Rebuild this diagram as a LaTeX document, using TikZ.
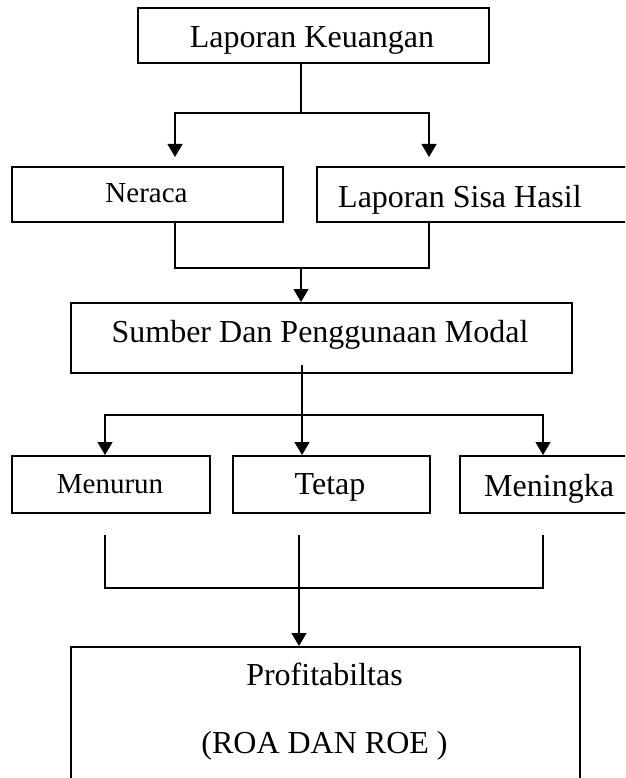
\documentclass[tikz,border=0pt]{standalone}
\usepackage{fontspec}
\setmainfont{Liberation Serif}
\usetikzlibrary{arrows.meta}
\begin{document}
\begin{tikzpicture}[x=1pt,y=-1pt,
  box/.style={draw, line width=1.7pt, inner sep=0pt, anchor=north west},
  lbl/.style={inner sep=0pt, anchor=base, font=\fontsize{32}{38}\selectfont},
  lblsm/.style={inner sep=0pt, anchor=base, font=\fontsize{29}{35}\selectfont},
  conn/.style={line width=1.2pt},
  arr/.style={conn, -{Triangle[length=13pt,width=15pt]}},
  arrboth/.style={conn, {Triangle[length=13pt,width=15pt]}-{Triangle[length=13pt,width=15pt]}}]
\useasboundingbox (0,0) rectangle (625,778);
\clip (0,0) rectangle (625,778);
\fill[white] (0,0) rectangle (625,778);

% boxes
\node[box, minimum width=351pt, minimum height=55pt] (lk) at (137,7) {};
\node[lbl] (lkt) at (312,48) {Laporan Keuangan};

\node[box, minimum width=271pt, minimum height=55pt] (ner) at (11,166) {};
\node[lblsm] (nert) at (146.5,202) {Neraca};

\node[box, minimum width=340pt, minimum height=55pt] (lsh) at (316,166) {};
\node[lbl, anchor=base west] (lsht) at (338,207) {Laporan Sisa Hasil};

\node[box, minimum width=501pt, minimum height=70pt] (sum) at (70,302) {};
\node[lbl] (sumt) at (320,342) {Sumber Dan Penggunaan Modal};

\node[box, minimum width=198pt, minimum height=57pt] (men) at (11,455) {};
\node[lblsm] (ment) at (110,493) {Menurun};

\node[box, minimum width=197pt, minimum height=57pt] (tet) at (232,455) {};
\node[lbl] (tett) at (330,494) {Tetap};

\node[box, minimum width=200pt, minimum height=57pt] (mng) at (459,455) {};
\node[lbl, anchor=base west] (mngt) at (484,496) {Meningka};

\node[box, minimum width=509pt, minimum height=160pt] (prof) at (70,646) {};
\node[lbl] (proft) at (324.5,685) {Profitabiltas};
\node[lbl] (roat) at (324.5,753) {(ROA DAN ROE )};

% connectors: level 1
\coordinate (j1) at (301,113);
\coordinate (t1) at (175,157);
\coordinate (t2) at (429,157);
\draw[conn] (lk.south -| j1) -- (j1);
\draw[arr] (j1) -| (t1);
\draw[arr] (j1) -| (t2);

% level 2
\coordinate (j2) at (301,268);
\draw[conn] (ner.south -| t1) |- (j2) -| (lsh.south -| t2);
\draw[arr] (j2) -- (sum.north -| j2);

% level 3
\coordinate (s0) at (302,365);
\coordinate (h3a) at (105,415);
\coordinate (h3b) at (543,415);
\draw[arr] (s0) -- (tet.north -| s0);
\draw[arrboth] (men.north -| h3a) -- (h3a) -- (h3b) -- (mng.north -| h3b);

% level 4
\coordinate (b1) at (105,535);
\coordinate (b2) at (299,535);
\coordinate (b3) at (543,535);
\coordinate (h4) at (299,588);
\draw[conn] (b1) |- (h4) -| (b3);
\draw[arr] (b2) -- (prof.north -| b2);
\end{tikzpicture}
\end{document}
